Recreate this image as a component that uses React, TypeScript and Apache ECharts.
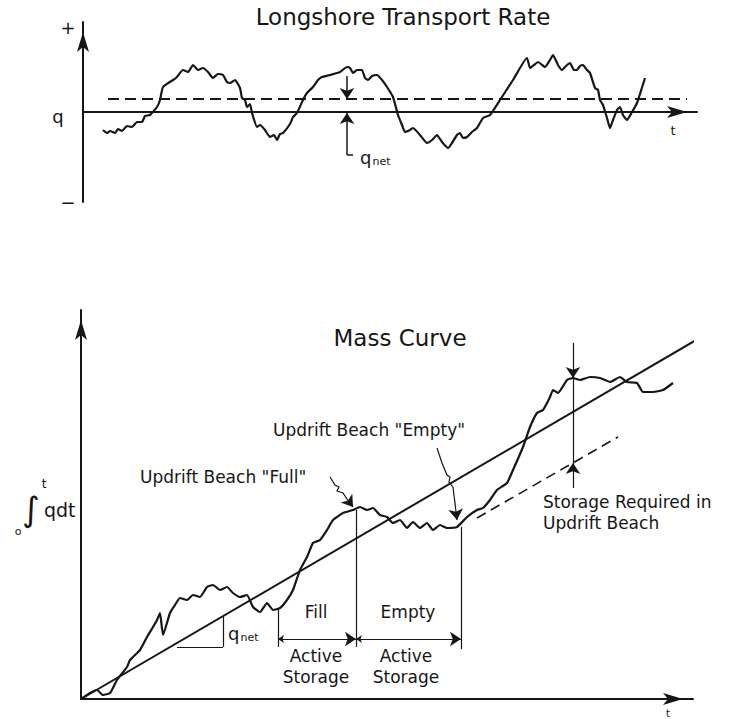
import React, { useEffect, useRef } from "react";
import * as echarts from "echarts";

// ---- Longshore transport rate q(t) (arbitrary units) ----
const rateT = [20,24,27,32,35,39,44,49,54,59,62,67,74,77,80,90,93,100,105,110,115,120,125,130,135,140,144,147,152,157,159,162,164,167,169,174,177,182,187,191,194,197,200,207,210,214,220,224,230,235,239,247,257,264,267,270,274,279,282,285,289,294,299,304,310,315,319,322,327,330,337,344,349,354,359,365,369,374,377,380,384,389,394,400,407,417,430,444,447,451,455,462,467,470,475,479,483,487,491,494,497,500,504,507,512,515,517,520,524,527,530,534,537,540,544,549,554,562];
const rateQ = [-18,-21,-19,-21,-17,-19,-14,-15,-10,-10,-4,-3,5,12,25,32,34,42,40,47,42,44,40,34,38,37,30,29,32,24,14,12,5,8,-1,-15,-13,-18,-25,-23,-28,-22,-21,-12,-5,-1,12,19,25,32,35,37,40,45,44,39,42,42,34,32,36,37,32,25,15,-3,-13,-20,-18,-16,-23,-31,-28,-23,-30,-36,-31,-23,-21,-26,-25,-20,-16,-6,-3,12,32,54,44,47,50,45,52,57,47,42,46,49,42,42,46,47,42,39,24,22,12,7,-6,-16,-8,2,5,-3,-8,0,9,34];
const qNetLevel = 13;
const qNetSpan = [25, 604];
const qNetMarkT = 264;

// ---- Mass curve: cumulative transport ----
const massT = [0,9,16,22,29,36,46,49,59,66,72,76,79,82,89,94,99,106,112,119,126,132,139,146,152,159,166,172,179,186,192,199,206,212,219,226,232,239,246,252,262,272,279,286,292,299,306,312,319,326,332,339,346,352,359,366,376,386,396,402,409,416,426,432,442,449,456,462,469,472,477,486,492,499,509,519,529,539,546,556,562,572,582,592];
const massM = [0,6,9,4,6,19,32,39,49,62,72,79,86,64,86,94,101,99,104,102,112,114,109,112,106,102,104,92,87,96,89,91,99,109,129,142,156,159,169,179,186,189,192,189,191,184,182,176,179,171,177,171,176,169,174,171,172,182,189,191,199,209,216,229,252,272,286,289,302,309,306,319,321,319,322,321,317,322,317,316,307,307,309,316];
const netTrendT = [0, 634];
const netTrendM = [0, 370];
const offsetTrendT = [396, 537];
const offsetTrendM = [181, 262];

// annotation values (t, mass)
const fillStartT = 197; const fillStartM = 91;
const fullT = 275; const fullM = 189;
const emptyT = 380; const emptyM = 172;
const storageLevel = 60; const dropBottom = 52;
const storageT = 492; const storageTop = 356; const storageCurve = 321; const storageDashed = 236; const storageBottom = 211;
const slopeT = [96, 142]; const slopeM = [52, 82];
const fullLeaderT = [249, 254, 258, 256, 262, 266]; const fullLeaderM = [222, 214, 212, 208, 206, 200];
const emptyLeaderT = [356, 361, 366, 369, 368, 372]; const emptyLeaderM = [251, 236, 224, 222, 217, 212];

const INK = "#161616";
const FONT = "DejaVu Sans";

const zip = (a: number[], b: number[]) => a.map((v, i) => [v, b[i]]);

function hiddenAxis(grid: number, min: number, max: number) {
  return {
    type: "value" as const,
    gridIndex: grid,
    min,
    max,
    axisLine: {
      show: true,
      onZero: true,
      symbol: ["none", "arrow"],
      symbolSize: [9, 20],
      symbolOffset: [0, -10],
      lineStyle: { color: INK, width: 2 },
    },
    axisTick: { show: false },
    axisLabel: { show: false },
    splitLine: { show: false },
  };
}

function txt(text: string, x: number, y: number, size: number, align = "left") {
  return {
    type: "text",
    x,
    y,
    style: { text, fill: INK, fontSize: size, fontFamily: FONT, align, verticalAlign: "middle" },
  };
}

function qnet(x: number, y: number) {
  return {
    type: "text",
    x,
    y,
    style: {
      text: "{q|q}{s|net}",
      fill: INK,
      fontFamily: FONT,
      align: "left",
      verticalAlign: "middle",
      rich: {
        q: { fontSize: 18, fontFamily: FONT, fill: INK },
        s: { fontSize: 11, fontFamily: FONT, fill: INK, padding: [8, 0, 0, 1] },
      },
    },
  };
}

const arrowLine = (from: number[], to: number[]) => ({ coords: [from, to], symbol: ["none", "arrow"] });
const doubleArrow = (from: number[], to: number[]) => ({ coords: [from, to], symbol: ["arrow", "arrow"] });
const plain = (from: number[], to: number[]) => ({ coords: [from, to], symbol: ["none", "none"] });

const option: any = {
  animation: false,
  backgroundColor: "#ffffff",
  grid: [
    { left: 83, top: 22, width: 614, height: 180 },
    { left: 81, top: 310, width: 612, height: 389 },
  ],
  xAxis: [hiddenAxis(0, 0, 614), hiddenAxis(1, 0, 612)],
  yAxis: [hiddenAxis(0, -90, 90), hiddenAxis(1, 0, 389)],
  series: [
    {
      type: "line",
      xAxisIndex: 0,
      yAxisIndex: 0,
      data: zip(rateT, rateQ),
      showSymbol: false,
      smooth: 0.15,
      lineStyle: { color: INK, width: 2.2 },
    },
    {
      type: "line",
      xAxisIndex: 0,
      yAxisIndex: 0,
      data: qNetSpan.map((t) => [t, qNetLevel]),
      showSymbol: false,
      lineStyle: { color: INK, width: 2, type: [11, 6] },
    },
    {
      type: "lines",
      coordinateSystem: "cartesian2d",
      xAxisIndex: 0,
      yAxisIndex: 0,
      symbolSize: [6, 11],
      lineStyle: { color: INK, width: 1.5, opacity: 1 },
      data: [
        arrowLine([qNetMarkT, 36], [qNetMarkT, qNetLevel]),
        arrowLine([qNetMarkT, -43], [qNetMarkT, -1]),
        plain([qNetMarkT, -43], [qNetMarkT + 6, -43]),
      ],
    },
    {
      type: "line",
      xAxisIndex: 1,
      yAxisIndex: 1,
      data: zip(massT, massM),
      showSymbol: false,
      smooth: 0.15,
      lineStyle: { color: INK, width: 2.2 },
    },
    {
      type: "line",
      xAxisIndex: 1,
      yAxisIndex: 1,
      data: zip(netTrendT, netTrendM),
      showSymbol: false,
      clip: false,
      lineStyle: { color: INK, width: 2 },
    },
    {
      type: "line",
      xAxisIndex: 1,
      yAxisIndex: 1,
      data: zip(offsetTrendT, offsetTrendM),
      showSymbol: false,
      lineStyle: { color: INK, width: 1.6, type: [10, 6] },
    },
    {
      type: "lines",
      coordinateSystem: "cartesian2d",
      xAxisIndex: 1,
      yAxisIndex: 1,
      symbolSize: [6, 11],
      lineStyle: { color: INK, width: 1.2, opacity: 1 },
      data: [
        plain([fillStartT, fillStartM], [fillStartT, dropBottom]),
        plain([fullT, fullM], [fullT, dropBottom]),
        plain([emptyT, emptyM], [emptyT, dropBottom - 2]),
        doubleArrow([fillStartT, storageLevel], [fullT, storageLevel]),
        doubleArrow([fullT, storageLevel], [emptyT, storageLevel]),
        arrowLine([storageT, storageTop], [storageT, storageCurve]),
        plain([storageT, storageCurve], [storageT, storageDashed]),
        arrowLine([storageT, storageBottom], [storageT, storageDashed]),
        plain([slopeT[0], slopeM[0]], [slopeT[1], slopeM[0]]),
        plain([slopeT[1], slopeM[0]], [slopeT[1], slopeM[1]]),
        arrowLine([fullLeaderT[fullLeaderT.length - 1], fullLeaderM[fullLeaderM.length - 1]], [fullT - 3, fullM + 3]),
        arrowLine([emptyLeaderT[emptyLeaderT.length - 1], emptyLeaderM[emptyLeaderM.length - 1]], [emptyT - 4, emptyM + 7]),
      ],
    },
    {
      type: "lines",
      coordinateSystem: "cartesian2d",
      xAxisIndex: 1,
      yAxisIndex: 1,
      polyline: true,
      lineStyle: { color: INK, width: 1.2, opacity: 1 },
      data: [{ coords: zip(fullLeaderT, fullLeaderM) }, { coords: zip(emptyLeaderT, emptyLeaderM) }],
    },
  ],
  graphic: [
    txt("Longshore Transport Rate", 403, 17, 23, "center"),
    txt("+", 68, 27, 18, "center"),
    txt("\u2212", 68, 202, 18, "center"),
    txt("q", 58, 116, 18, "center"),
    txt("t", 673, 130, 13, "center"),
    qnet(360, 157),
    txt("Mass Curve", 400, 338, 23, "center"),
    txt("Updrift Beach \"Empty\"", 273, 430, 17),
    txt("Updrift Beach \"Full\"", 140, 477, 17),
    txt("Storage Required in", 543, 502, 17),
    txt("Updrift Beach", 543, 523, 17),
    txt("Fill", 316, 612, 17, "center"),
    txt("Empty", 408, 612, 17, "center"),
    txt("Active", 316, 656, 17, "center"),
    txt("Storage", 316, 677, 17, "center"),
    txt("Active", 406, 656, 17, "center"),
    txt("Storage", 406, 677, 17, "center"),
    qnet(228, 633),
    txt("t", 668, 713, 10, "center"),
    txt("\u222B", 31, 509, 34, "center"),
    txt("t", 44, 484, 12, "center"),
    txt("o", 18, 531, 11, "center"),
    txt("qdt", 44, 510, 19),
  ],
};

export default function App() {
  const ref = useRef<HTMLDivElement>(null);
  useEffect(() => {
    if (!ref.current) return;
    const chart = echarts.init(ref.current, null, { renderer: "svg" });
    chart.setOption(option);
    return () => chart.dispose();
  }, []);
  return (
    <div
      ref={ref}
      style={{ position: "absolute", left: 0, top: 0, width: 735, height: 719, background: "#fff" }}
    />
  );
}
